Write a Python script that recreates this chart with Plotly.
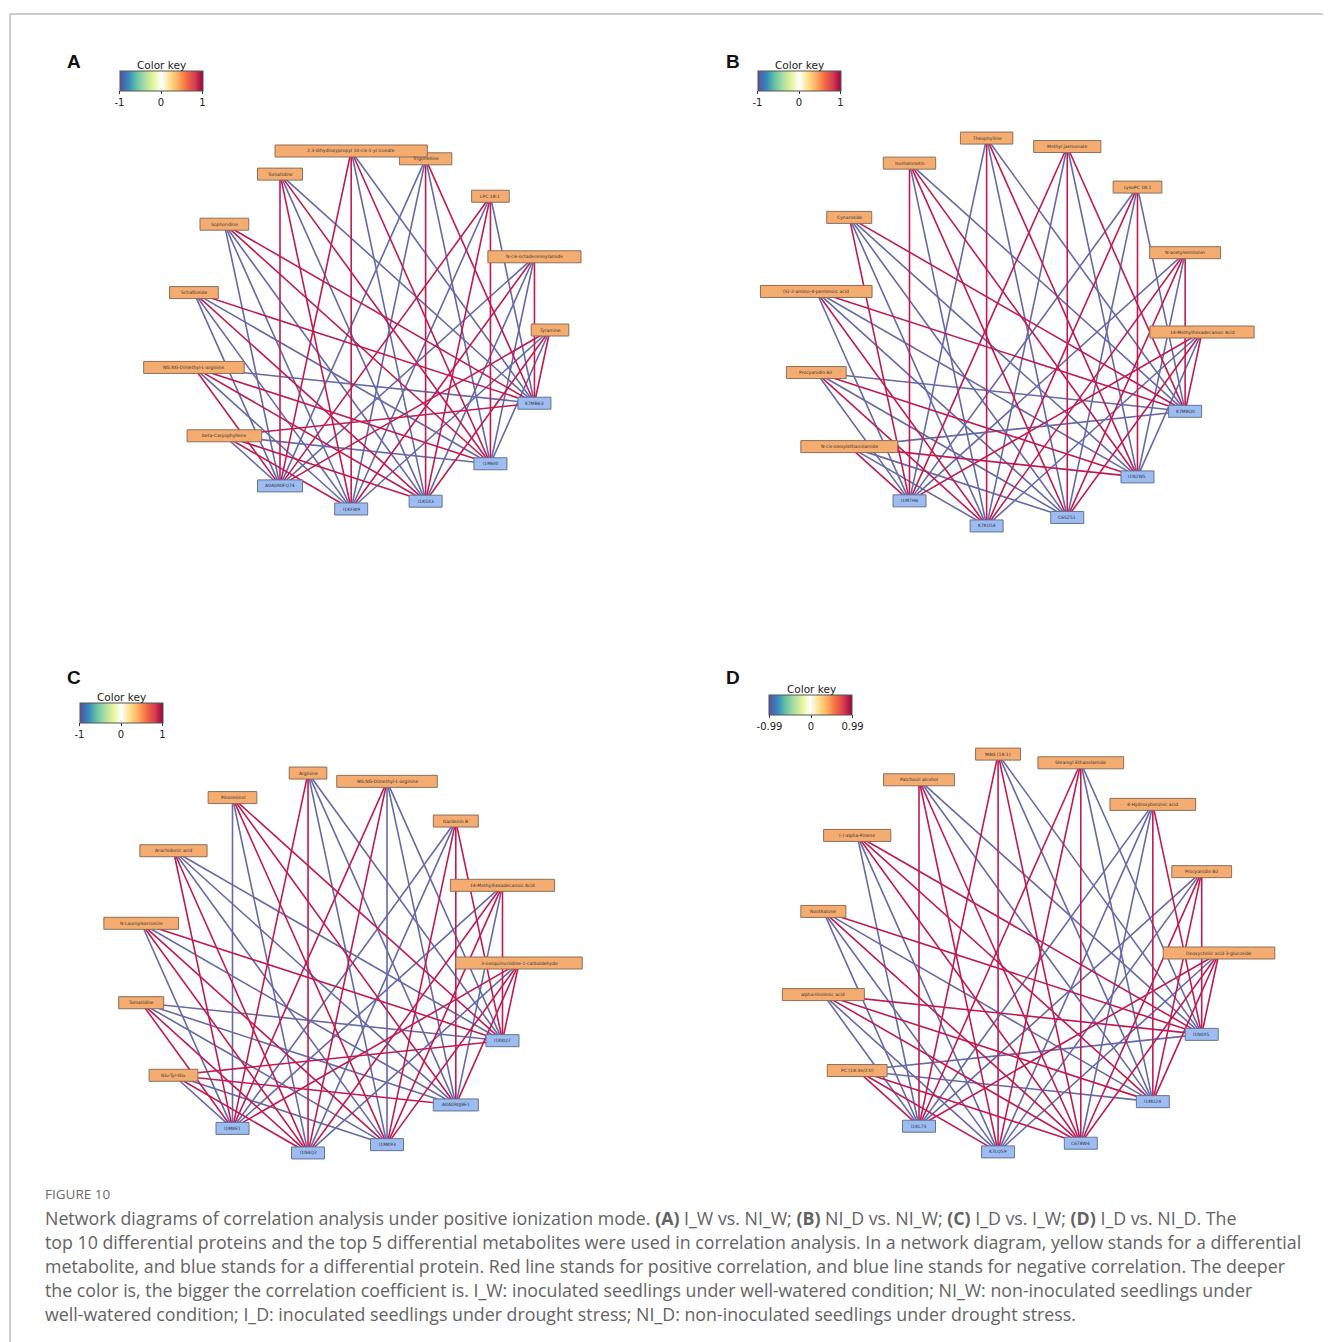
import math
import plotly.graph_objects as go

W, H = 1331, 1342
OFF = 8                      # default page margin of the html body
FW, FH = W - OFF, H - OFF    # figure size so that it fits the window exactly

# ---------------- data (node order = circular-layout order, starting at angle 0) -------------
# Panel A : I_W vs. NI_W
A_metabolites = ["Tyramine", "N-cis-octadecenoylamide", "LPC 18:1", "Trigonelline",
                 "2,3-dihydroxypropyl 10-cis-1-yl icosate", "Tomatidine", "Sophoridine",
                 "Schaftoside", "NG,NG-Dimethyl-L-arginine", "beta-Caryophyllene"]
A_proteins = ["A0A0R0FQ74", "I1KFW9", "I1K5X3", "I1M6I0", "K7MB63"]
A_signs = ["+-+-+", "-+--+", "+-++-", "--+-+", "++-+-",
           "++-+-", "---++", "--+-+", "+-++-", "-++-+"]

# Panel B : NI_D vs. NI_W
B_metabolites = ["14-Methylhexadecanoic Acid", "N-acetylserotonin", "LysoPC 18:1", "Methyl jasmonate",
                 "Theophylline", "Isorhamnetin", "Cynaroside", "(S)-2-amino-4-pentenoic acid",
                 "Procyanidin B2", "N-cis-oleoylethanolamide"]
B_proteins = ["I1M7H6", "K7KU54", "C6SZ51", "I1N2W5", "K7M8Q0"]
B_signs = ["+-+-+", "-++-+", "-+-+-", "+-+-+", "-+-+-",
           "+-++-", "+---+", "-+--+", "-+-+-", "+--+-"]

# Panel C : I_D vs. I_W
C_metabolites = ["3-oxoquinuclidine-1-carbaldehyde", "14-Methylhexadecanoic Acid", "Gardenin B",
                 "NG,NG-Dimethyl-L-arginine", "Arginine", "Pinoresinol", "Arachidonic acid",
                 "N-Lauroylsarcosine", "Tomatidine", "Glu-Tyr-Glu"]
C_proteins = ["I1M8E1", "I1N4Q2", "I1MK93", "A0A0R0J8E1", "I1KKQ7"]
C_signs = ["+-+++", "-++-+", "--+++", "++---", "++---",
           "--+++", "++---", "-++-+", "++---", "-+-++"]

# Panel D : I_D vs. NI_D
D_metabolites = ["Deoxycholic acid 3-glucoside", "Procyanidin B2", "4-Hydroxybenzoic acid",
                 "Stearoyl Ethanolamide", "MAG (18:1)", "Patchouli alcohol", "(-)-alpha-Pinene",
                 "Nootkatone", "alpha-linolenic acid", "PC (18:3e/2:0)"]
D_proteins = ["I1KL73", "K7LQ59", "C6T8W4", "I1MU24", "I1N0X5"]
D_signs = ["+-+++", "--+++", "---++", "+++--", "+++--",
           "+++--", "--+++", "--+-+", "--+++", "+++--"]

A_key_ticks = ["-1", "0", "1"]
B_key_ticks = ["-1", "0", "1"]
C_key_ticks = ["-1", "0", "1"]
D_key_ticks = ["-0.99", "0", "0.99"]
key_title = "Color key"

caption_head = "FIGURE 10"
caption_lines = [
    "Network diagrams of correlation analysis under positive ionization mode. <b>(A)</b> I_W vs. NI_W; "
    "<b>(B)</b> NI_D vs. NI_W; <b>(C)</b> I_D vs. I_W; <b>(D)</b> I_D vs. NI_D. The",
    "top 10 differential proteins and the top 5 differential metabolites were used in correlation analysis. "
    "In a network diagram, yellow stands for a differential",
    "metabolite, and blue stands for a differential protein. Red line stands for positive correlation, "
    "and blue line stands for negative correlation. The deeper",
    "the color is, the bigger the correlation coefficient is. I_W: inoculated seedlings under well-watered "
    "condition; NI_W: non-inoculated seedlings under",
    "well-watered condition; I_D: inoculated seedlings under drought stress; NI_D: non-inoculated "
    "seedlings under drought stress.",
]

# ---------------- layout / style ----------------
panels = [
    dict(letter="A", mets=A_metabolites, pros=A_proteins, signs=A_signs, ticks=A_key_ticks,
         center=(370, 330), r=180, letter_pos=(74, 61), key=(161, 71)),
    dict(letter="B", mets=B_metabolites, pros=B_proteins, signs=B_signs, ticks=B_key_ticks,
         center=(1007, 332), r=195, letter_pos=(733, 61), key=(799, 71)),
    dict(letter="C", mets=C_metabolites, pros=C_proteins, signs=C_signs, ticks=C_key_ticks,
         center=(328, 963), r=191, letter_pos=(74, 677), key=(121, 703)),
    dict(letter="D", mets=D_metabolites, pros=D_proteins, signs=D_signs, ticks=D_key_ticks,
         center=(1019, 953), r=200, letter_pos=(733, 677), key=(811, 695)),
]

RED = "rgb(194,26,80)"
BLUE = "rgb(102,104,170)"
MET_FILL, MET_LINE = "rgb(245,172,112)", "rgb(140,110,90)"
PRO_FILL, PRO_LINE = "rgb(156,188,242)", "rgb(100,115,150)"
BOX_H = 12
BAR_LEN, BAR_TH = 83, 20

spectral = [[0.0, "#5e4fa2"], [0.1, "#3288bd"], [0.2, "#66c2a5"], [0.3, "#abdda4"],
            [0.4, "#e6f598"], [0.5, "#ffffff"], [0.6, "#fee08b"], [0.7, "#fdae61"],
            [0.8, "#f46d43"], [0.9, "#d53e4f"], [1.0, "#9e0142"]]


def box_w(label, minimum=30):
    return max(3.7 * len(label) + 8, minimum)


def px(x):
    return (x - OFF) / FW


def py(y):
    return 1 - (y - OFF) / FH


fig = go.Figure()
shapes, annotations = [], []
layout_extra = {}

for k, p in enumerate(panels):
    names = p["mets"] + p["pros"]
    n = len(names)
    cx, cy = p["center"]
    r = p["r"]
    pos = [(cx + r * math.cos(2 * math.pi * i / n), cy - r * math.sin(2 * math.pi * i / n))
           for i in range(n)]
    nm = len(p["mets"])
    ex = {"+": [], "-": []}
    ey = {"+": [], "-": []}
    for i in range(nm):
        for j, s in enumerate(p["signs"][i]):
            x0, y0 = pos[i]
            x1, y1 = pos[nm + j]
            ex[s] += [x0, x1, None]
            ey[s] += [y0, y1, None]
    for s, col in (("-", BLUE), ("+", RED)):
        fig.add_trace(go.Scatter(x=ex[s], y=ey[s], mode="lines",
                                 line=dict(color=col, width=1.6),
                                 hoverinfo="skip", showlegend=False))
    for i, name in enumerate(names):
        x, y = pos[i]
        is_met = i < nm
        w = box_w(name, 30 if is_met else 33)
        shapes.append(dict(type="rect", xref="x", yref="y", layer="above",
                           x0=x - w / 2, x1=x + w / 2, y0=y - BOX_H / 2, y1=y + BOX_H / 2,
                           fillcolor=MET_FILL if is_met else PRO_FILL,
                           line=dict(color=MET_LINE if is_met else PRO_LINE, width=1)))
        annotations.append(dict(x=x, y=y, xref="x", yref="y", text=name, showarrow=False,
                                font=dict(size=4.5, color="#333", family="DejaVu Sans")))
    # panel letter
    lx, ly = p["letter_pos"]
    annotations.append(dict(x=lx, y=ly, xref="x", yref="y", text="<b>%s</b>" % p["letter"],
                            showarrow=False, font=dict(size=19, color="#111", family="Liberation Sans")))
    # color key (bar top at key y)
    ca = "coloraxis" if k == 0 else "coloraxis%d" % (k + 1)
    kx, ky = p["key"]
    annotations.append(dict(x=kx, y=ky, xref="x", yref="y", xanchor="center", yanchor="bottom",
                            text=key_title, showarrow=False, yshift=-2,
                            font=dict(size=10.5, color="#222", family="DejaVu Sans")))
    fig.add_trace(go.Scatter(x=[cx], y=[cy], mode="markers",
                             marker=dict(color=[0], coloraxis=ca, opacity=0, size=1),
                             hoverinfo="skip", showlegend=False))
    layout_extra[ca] = dict(
        colorscale=spectral, cmin=-1, cmax=1,
        colorbar=dict(orientation="h", x=px(kx), y=py(ky), xanchor="center", yanchor="top",
                      lenmode="pixels", len=BAR_LEN, thickness=BAR_TH, xpad=0, ypad=0,
                      outlinewidth=1, outlinecolor="#555",
                      tickvals=[-1, 0, 1], ticktext=p["ticks"], ticks="outside", ticklen=3,
                      tickcolor="#333",
                      tickfont=dict(size=10, color="#222", family="DejaVu Sans")))

# caption
annotations.append(dict(x=43, y=1194, xref="x", yref="y", xanchor="left", yanchor="middle",
                        text=caption_head, showarrow=False,
                        font=dict(size=13.5, color="#6b6b6b", family="Open Sans")))
for i, line in enumerate(caption_lines):
    annotations.append(dict(x=43, y=1218 + 24 * i, xref="x", yref="y", xanchor="left",
                            yanchor="middle", text=line, showarrow=False,
                            font=dict(size=17.8, color="#636363", family="Open Sans")))

# frame lines
shapes.append(dict(type="line", xref="x", yref="y", x0=10, x1=W, y0=14, y1=14,
                   line=dict(color="#9a9a9a", width=1)))
shapes.append(dict(type="line", xref="x", yref="y", x0=10, x1=10, y0=14, y1=H,
                   line=dict(color="#9a9a9a", width=1)))

fig.update_layout(
    width=FW, height=FH, margin=dict(l=0, r=0, t=0, b=0),
    paper_bgcolor="white", plot_bgcolor="white",
    xaxis=dict(range=[OFF, W], visible=False, fixedrange=True),
    yaxis=dict(range=[H, OFF], visible=False, fixedrange=True),
    shapes=shapes, annotations=annotations, showlegend=False,
    **layout_extra,
)

fig.write_html("out.html")
